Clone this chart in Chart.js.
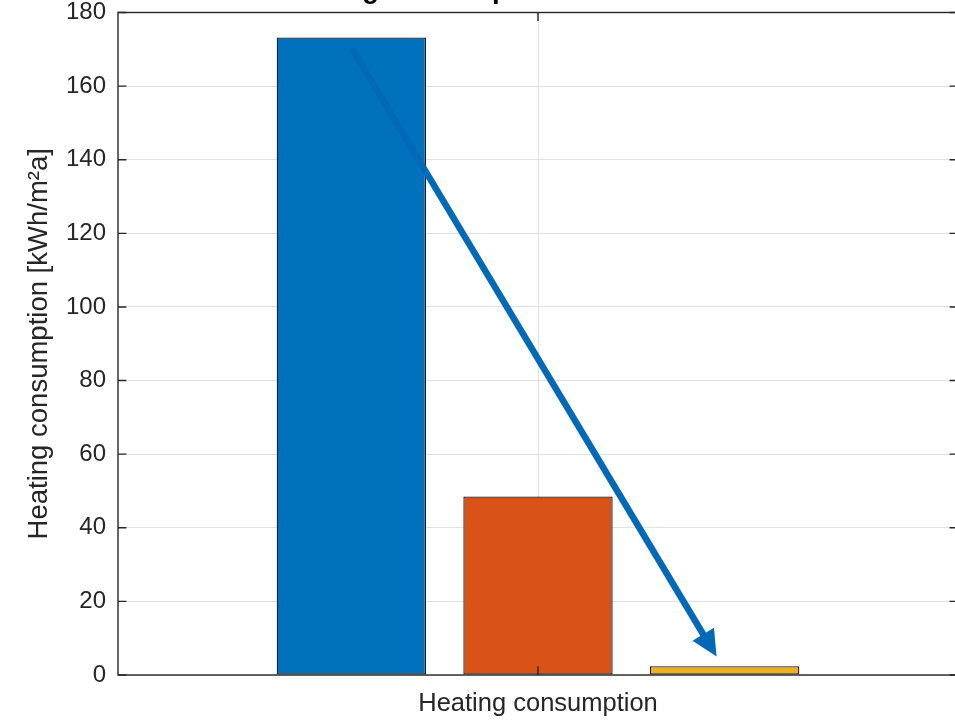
<!DOCTYPE html>
<html><head><meta charset="utf-8">
<script src="https://cdn.jsdelivr.net/npm/chart.js@4.4.1/dist/chart.umd.min.js"></script>
<style>
html,body{margin:0;padding:0;overflow:hidden;background:#fff;width:955px;height:720px}
#wrap{position:absolute;left:0;top:0;width:970px;height:720px}
</style>
</head><body>
<div id="wrap"><canvas id="c" width="970" height="720"></canvas></div>
<script>
// ---- data ----
const categories = ['Heating consumption'];
const seriesNames = ['Variant 1', 'Variant 2', 'Variant 3'];
const blueValues = [173.2];
const orangeValues = [48.5];
const yellowValues = [2.4];
const yTicks = [0, 20, 40, 60, 80, 100, 120, 140, 160, 180];
const titleText = 'Heating consumption of the three variants';
const yAxisTitle = 'Heating consumption [kWh/m²a]';
// arrow annotation: [offset in category units from category centre, value]
const arrowFrom = [-0.222, 170.4];
const arrowTo = [0.2126, 5.0];

const FONT = '"Liberation Sans", Arial, Helvetica, sans-serif';
const TXT = '#262626';
const GRID = '#e1e1e1';

const matlabAxes = {
  id: 'matlabAxes',
  afterDatasetsDraw(chart) {
    const {ctx, chartArea: a, scales: {x, y}} = chart;
    const cx = x.getPixelForValue(0);
    const cw = (a.right - a.left) / categories.length;
    ctx.save();
    // arrow
    const x1 = cx + arrowFrom[0] * cw, y1 = y.getPixelForValue(arrowFrom[1]);
    const x2 = cx + arrowTo[0] * cw, y2 = y.getPixelForValue(arrowTo[1]);
    const dx = x2 - x1, dy = y2 - y1, L = Math.hypot(dx, dy);
    const ux = dx / L, uy = dy / L;
    const hl = 26, hw = 12.5;
    const bx = x2 - ux * hl, by = y2 - uy * hl;
    ctx.strokeStyle = '#006ab8';
    ctx.fillStyle = '#006ab8';
    ctx.lineWidth = 6.5;
    ctx.lineCap = 'butt';
    ctx.beginPath(); ctx.moveTo(x1, y1); ctx.lineTo(bx + ux * 2, by + uy * 2); ctx.stroke();
    ctx.beginPath();
    ctx.moveTo(x2, y2);
    ctx.lineTo(bx - uy * hw, by + ux * hw);
    ctx.lineTo(bx + uy * hw, by - ux * hw);
    ctx.closePath(); ctx.fill();
    // axes box
    ctx.strokeStyle = TXT;
    ctx.lineWidth = 1.4;
    ctx.strokeRect(a.left, a.top, a.right - a.left, a.bottom - a.top);
    // inward ticks
    const tl = 8.4;
    ctx.beginPath();
    yTicks.forEach(v => {
      const py = y.getPixelForValue(v);
      ctx.moveTo(a.left, py); ctx.lineTo(a.left + tl, py);
      ctx.moveTo(a.right, py); ctx.lineTo(a.right - tl, py);
    });
    ctx.moveTo(cx, a.bottom); ctx.lineTo(cx, a.bottom - tl);
    ctx.moveTo(cx, a.top); ctx.lineTo(cx, a.top + tl);
    ctx.stroke();
    // title (clipped at top of figure)
    ctx.font = 'bold 27.5px ' + FONT;
    ctx.fillStyle = '#000';
    ctx.textAlign = 'center';
    ctx.textBaseline = 'alphabetic';
    ctx.fillText(titleText, (a.left + a.right) / 2 + 16, -2);
    ctx.restore();
  }
};

const mk = (i, data, color) => ({
  label: seriesNames[i], data, backgroundColor: color, borderColor: '#1a1a1a',
  borderWidth: 1.3, borderSkipped: false, categoryPercentage: 2 / 3, barPercentage: 0.8
});

const noPad = s => { s.paddingTop = 0; s.paddingBottom = 0; s.paddingLeft = 0; s.paddingRight = 0; };

new Chart(document.getElementById('c'), {
  type: 'bar',
  data: {
    labels: categories,
    datasets: [
      mk(0, blueValues, '#0072BD'),
      mk(1, orangeValues, '#D95319'),
      mk(2, yellowValues, '#EDB120')
    ]
  },
  options: {
    responsive: false,
    animation: false,
    events: [],
    layout: {padding: {top: 12.5, right: 12, left: 0, bottom: 0}},
    plugins: {legend: {display: false}, tooltip: {enabled: false}, title: {display: false}},
    scales: {
      x: {
        grid: {offset: false, color: GRID, drawTicks: false, lineWidth: 1},
        border: {display: false},
        ticks: {color: TXT, font: {family: FONT, size: 25.5}, padding: 14},
        afterFit: s => { s.height = 45; noPad(s); }
      },
      y: {
        min: 0, max: 180,
        afterBuildTicks: s => { s.ticks = yTicks.map(v => ({value: v})); },
        grid: {color: GRID, drawTicks: false, lineWidth: 1},
        border: {display: false},
        ticks: {color: TXT, font: {family: FONT, size: 24}, padding: 12},
        title: {display: true, text: yAxisTitle, color: TXT,
                font: {family: FONT, size: 27.5}, padding: {top: 22.5, bottom: 0}},
        afterFit: s => { s.width = 118; noPad(s); }
      }
    }
  },
  plugins: [matlabAxes]
});
</script>
</body></html>
